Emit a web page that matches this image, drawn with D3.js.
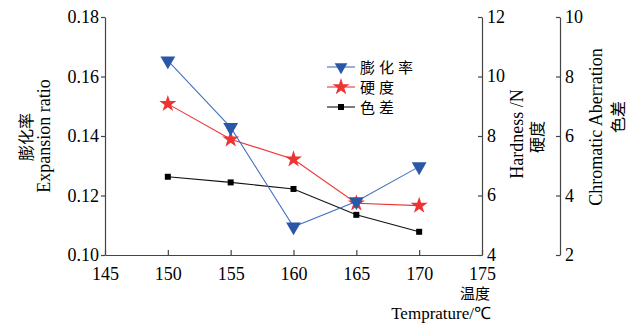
<!DOCTYPE html>
<html>
<head>
<meta charset="utf-8">
<script src="https://cdn.jsdelivr.net/npm/d3@7"></script>
<style>
  body { margin: 0; background: #fff; }
  text { font-family: "Liberation Serif", "Times New Roman", serif; fill: #000; }
  .cjk { font-family: "Noto Sans CJK SC", sans-serif; }
</style>
</head>
<body>
<script>
// data
var temps = [150, 155, 160, 165, 170];
var expansion = [0.1653, 0.1429, 0.1095, 0.1180, 0.1297];
var hardness = [9.08, 7.89, 7.22, 5.74, 5.66];
var chroma = [4.63, 4.44, 4.22, 3.35, 2.78];
var xTicks = [145, 150, 155, 160, 165, 170, 175];
var yTicks = [0.10, 0.12, 0.14, 0.16, 0.18];
var hTicks = [4, 6, 8, 10, 12];
var cTicks = [2, 4, 6, 8, 10];

var W = 636, H = 323;
var plotL = 105, plotR = 482, plotT = 17, plotB = 255;

var svg = d3.select("body").append("svg").attr("width", W).attr("height", H);

var x = d3.scaleLinear().domain([145, 175]).range([plotL, plotR]);
var y = d3.scaleLinear().domain([0.10, 0.18]).range([plotB, plotT]);
var yh = d3.scaleLinear().domain([4, 12]).range([plotB, plotT]);
var yc = d3.scaleLinear().domain([2, 10]).range([plotB, plotT]);

var axisColor = "#444";
function styleAxis(g) {
  g.select(".domain").attr("stroke", axisColor).attr("stroke-width", 1.2);
  g.selectAll(".tick line").attr("stroke", axisColor).attr("stroke-width", 1.2);
  g.selectAll(".tick text").style("font-size", "18px").style("font-family", "Liberation Serif");
}

// x axis, ticks inward
var gx = svg.append("g").attr("transform", "translate(0," + plotB + ")")
  .call(d3.axisBottom(x).tickValues(xTicks).tickSizeInner(-5).tickSizeOuter(0).tickPadding(12));
styleAxis(gx);

var gy = svg.append("g").attr("transform", "translate(" + plotL + ",0)")
  .call(d3.axisLeft(y).tickValues(yTicks).tickFormat(d3.format(".2f")).tickSizeInner(4).tickSizeOuter(0).tickPadding(2));
styleAxis(gy);

var gh = svg.append("g").attr("transform", "translate(" + plotR + ",0)")
  .call(d3.axisRight(yh).tickValues(hTicks).tickSizeInner(-4).tickSizeOuter(0).tickPadding(5));
styleAxis(gh);
gh.selectAll(".tick text").attr("dy", "0.28em");

var gc = svg.append("g").attr("transform", "translate(560,0)")
  .call(d3.axisRight(yc).tickValues(cTicks).tickSizeInner(-4).tickSizeOuter(0).tickPadding(5));
styleAxis(gc);

// axis titles
function vtitle(tx, ty, txt, cls, size) {
  svg.append("text").attr("class", cls || null)
    .attr("transform", "translate(" + tx + "," + ty + ") rotate(-90)")
    .attr("text-anchor", "middle").style("font-size", size + "px").text(txt);
}
vtitle(32, 137, "膨化率", "cjk", 16);
vtitle(50, 136, "Expansion ratio", null, 18);
vtitle(523, 134, "Hardness /N", null, 18);
vtitle(543, 137, "硬度", "cjk", 16);
vtitle(602, 127, "Chromatic Aberration", null, 18);
vtitle(624, 117, "色差", "cjk", 16);

svg.append("text").attr("class", "cjk").attr("x", 490).attr("y", 299)
  .attr("text-anchor", "end").style("font-size", "15px").text("温度");
svg.append("text").attr("x", 491).attr("y", 319)
  .attr("text-anchor", "end").style("font-size", "17px").text("Temprature/℃");

// series
var blue = "#4272c0", blueM = "#2a57a8", red = "#ee3333";
var triDown = d3.symbol().type(d3.symbolTriangle).size(95);
var star = d3.symbol().type(d3.symbolStar).size(90);
var sq = d3.symbol().type(d3.symbolSquare).size(36);

function series(vals, ys, color, mcolor, sym, rot) {
  var pts = temps.map(function(t, i) { return [x(t), ys(vals[i])]; });
  svg.append("path").attr("d", d3.line()(pts)).attr("fill", "none")
    .attr("stroke", color).attr("stroke-width", 1.1);
  svg.append("g").selectAll("path").data(pts).enter().append("path")
    .attr("d", sym)
    .attr("transform", function(d) { return "translate(" + d[0] + "," + d[1] + ")" + (rot ? " rotate(180)" : ""); })
    .attr("fill", mcolor);
}
series(chroma, yc, "#111", "#000", sq, false);
series(hardness, yh, red, red, star, false);
series(expansion, y, blue, blueM, triDown, true);

// legend
var leg = [
  {name: "膨化率", color: blue, m: blueM, sym: triDown, rot: true},
  {name: "硬度", color: red, m: red, sym: star, rot: false},
  {name: "色差", color: "#111", m: "#000", sym: sq, rot: false}
];
var lg = svg.append("g").attr("transform", "translate(327,67)");
leg.forEach(function(d, i) {
  var g = lg.append("g").attr("transform", "translate(0," + i * 20 + ")");
  g.append("line").attr("x1", 0).attr("x2", 28).attr("stroke", d.color).attr("stroke-width", 1.1);
  g.append("path").attr("d", d.rot ? d3.symbol().type(d3.symbolTriangle).size(70)() : d.sym())
    .attr("transform", "translate(14,0)" + (d.rot ? " rotate(180)" : "")).attr("fill", d.m);
  g.append("text").attr("class", "cjk").attr("x", 33).attr("y", 6)
    .style("font-size", "15px").style("letter-spacing", "4px").text(d.name);
});
</script>
</body>
</html>
